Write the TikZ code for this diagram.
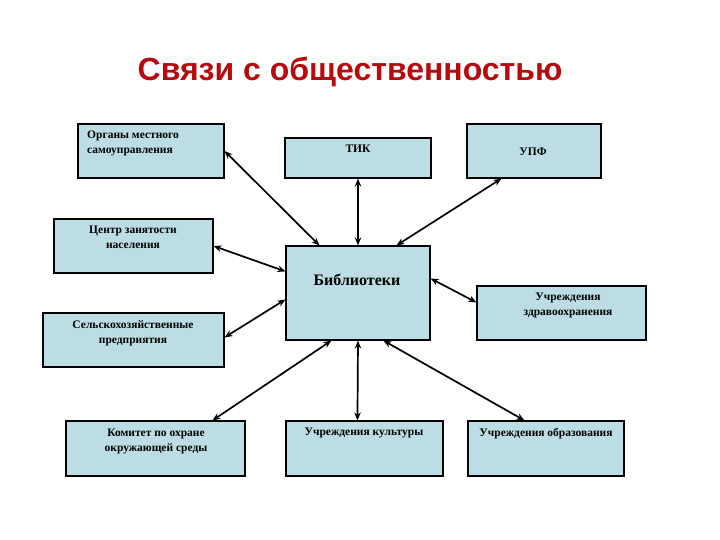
\documentclass[tikz,border=0pt]{standalone}
\usepackage{fontspec}
\setmainfont{Liberation Serif}
\newfontfamily\titlefont{Liberation Sans}
\usetikzlibrary{arrows.meta,calc}
\definecolor{boxfill}{RGB}{188,221,227}
\definecolor{titlered}{RGB}{182,10,12}
\tikzset{
  box/.style={draw=black, line width=1.1pt, fill=boxfill, inner sep=0pt},
  txt/.style={font=\fontsize{11.5}{15}\selectfont\bfseries, inner sep=0pt, align=center},
  link/.style={line width=1.7pt, {Stealth[length=8pt,width=6.5pt]}-{Stealth[length=8pt,width=6.5pt]}}
}
\begin{document}
\begin{tikzpicture}[x=1pt,y=-1pt]
\useasboundingbox[fill=white] (0,0) rectangle (720,540);
\node[font=\titlefont\fontsize{32}{36}\selectfont\bfseries, text=titlered] (title) at (350,72) {Связи с общественностью};

\node[box, minimum width=146, minimum height=54] (org) at (151,151) {};
\node[box, minimum width=146, minimum height=40] (tik) at (358,158) {};
\node[box, minimum width=134, minimum height=54] (upf) at (534,151) {};
\node[box, minimum width=159, minimum height=54] (czn) at (133.5,246) {};
\node[box, minimum width=144, minimum height=94] (lib) at (358,293) {};
\node[box, minimum width=169, minimum height=54] (zdr) at (561.5,313) {};
\node[box, minimum width=181, minimum height=54] (sel) at (133.5,340) {};
\node[box, minimum width=179, minimum height=55] (kom) at (155.5,448.5) {};
\node[box, minimum width=157, minimum height=55] (kul) at (364.5,448.5) {};
\node[box, minimum width=156, minimum height=55] (obr) at (546,448.5) {};

\node[txt, align=left, anchor=north west] (orgt) at (87,131) {Органы местного\\самоуправления};
\node[txt] (tikt) at (358,149) {ТИК};
\node[txt] (upft) at (533,152) {УПФ};
\node[txt] (cznt) at (133,237) {Центр занятости\\населения};
\node[txt, font=\fontsize{16}{18}\selectfont\bfseries] (libt) at (357,280) {Библиотеки};
\node[txt] (zdrt) at (568,305) {Учреждения\\здравоохранения};
\node[txt] (selt) at (133,333) {Сельскохозяйственные\\предприятия};
\node[txt] (komt) at (156,441) {Комитет по охране\\окружающей среды};
\node[txt] (kult) at (364,433) {Учреждения культуры};
\node[txt] (obrt) at (546,434) {Учреждения образования};

\draw[link] (org.east) -- ($(lib.north west)+(34,0)$);
\draw[link] (tik.south) -- (lib.north);
\draw[link] ($(upf.south west)+(35,0)$) -- ($(lib.north west)+(111,0)$);
\draw[link] (czn.east) -- ($(lib.north west)+(0,26)$);
\draw[link] ($(sel.north east)+(0,25)$) -- ($(lib.north west)+(0,54)$);
\draw[link] ($(zdr.north west)+(0,17)$) -- ($(lib.north east)+(0,33)$);
\draw[link] ($(lib.south west)+(46,0)$) -- ($(kom.north west)+(147,0)$);
\draw[link] (lib.south) -- ($(kul.north west)+(72,0)$);
\draw[link] ($(lib.south west)+(98,0)$) -- ($(obr.north west)+(57,0)$);
\end{tikzpicture}
\end{document}
